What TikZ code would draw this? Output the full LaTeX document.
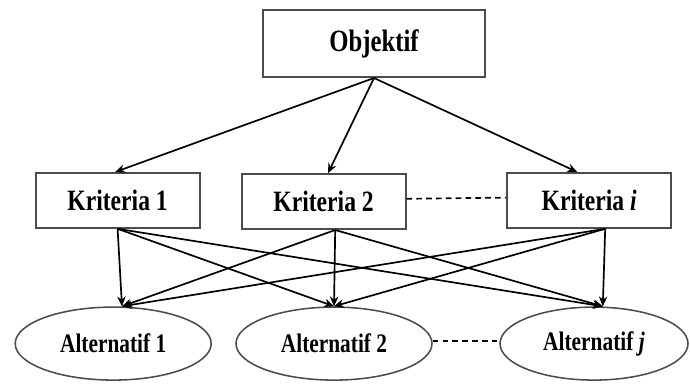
\documentclass[tikz,border=0pt]{standalone}
\usepackage{fontspec}
\setmainfont{Liberation Serif}[FakeStretch=0.8]
\usepackage{tikz}
\usetikzlibrary{shapes.geometric, arrows.meta, calc}

\begin{document}
\begin{tikzpicture}[
    box/.style={draw=black!70, line width=1.3pt, rectangle, minimum width=4.1cm, minimum height=1.375cm, font=\bfseries\fontsize{21}{24}\selectfont},
    alt/.style={draw=black!70, line width=1.1pt, ellipse, minimum width=4.9cm, minimum height=1.825cm, inner sep=0pt, font=\bfseries\fontsize{19}{22}\selectfont},
    line/.style={draw, line width=1.2pt, dashed, dash pattern=on 4pt off 3pt},
    arrow/.style={draw, line width=1.2pt, -{Stealth[length=7pt, width=6pt]}}
]
    \useasboundingbox (0,0) rectangle (17.25,-9.625);

    % Goal
    \node[box, minimum width=5.55cm, minimum height=1.675cm, font=\bfseries\fontsize{22}{25}\selectfont] (obj) at (9.35,-1.09) {Objektif};

    % Criteria
    \node[box] (k1) at (2.94,-5.01) {Kriteria 1};
    \node[box] (k2) at (8.09,-5.04) {Kriteria 2};
    \node[box] (ki) at (14.73,-5.01) {Kriteria \textit{i}};

    % Alternatives
    \node[alt] (a1) at (2.83,-8.59) {Alternatif 1};
    \node[alt] (a2) at (8.35,-8.59) {Alternatif 2};
    \node[alt, minimum width=4.7cm] (aj) at (14.85,-8.59) {Alternatif \textit{j}};

    % Goal to criteria
    \draw[arrow] (obj.south) -- ([xshift=-0.06cm]k1.north);
    \draw[arrow] (obj.south) -- ([xshift=0.11cm]k2.north);
    \draw[arrow] (obj.south) -- ([xshift=-0.3cm]ki.north);

    % Dots between criteria / alternatives
    \draw[line] ([yshift=0.07cm]k2.east) -- ([yshift=0.07cm]ki.west);
    \draw[line] ([yshift=0.07cm]a2.east) -- ([yshift=0.07cm]aj.west);

    % Criteria to alternatives
    \draw[arrow] (k1.south) -- ([xshift=0.22cm]a1.north);
    \draw[arrow] (k1.south) -- (a2.north);
    \draw[arrow] (k1.south) -- ([xshift=0.22cm]aj.north);
    \draw[arrow] ([xshift=0.29cm]k2.south) -- ([xshift=0.22cm]a1.north);
    \draw[arrow] ([xshift=0.29cm]k2.south) -- (a2.north);
    \draw[arrow] ([xshift=0.29cm]k2.south) -- ([xshift=0.22cm]aj.north);
    \draw[arrow] ([xshift=0.4cm]ki.south) -- ([xshift=0.22cm]a1.north);
    \draw[arrow] ([xshift=0.4cm]ki.south) -- (a2.north);
    \draw[arrow] ([xshift=0.4cm]ki.south) -- ([xshift=0.22cm]aj.north);

\end{tikzpicture}
\end{document}
